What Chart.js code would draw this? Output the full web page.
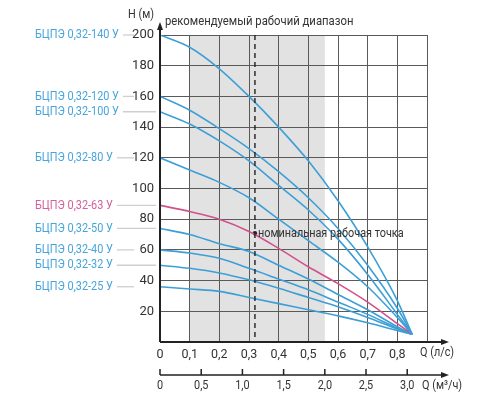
<!DOCTYPE html>
<html>
<head>
<meta charset="utf-8">
<script src="https://cdn.jsdelivr.net/npm/chart.js@4.4.1/dist/chart.umd.min.js"></script>
<style>
    html, body { margin: 0; background: #fff; }
    #wrap { width: 500px; height: 400px; }
</style>
</head>
<body>
<div id="wrap"><canvas id="chart" width="500" height="400"></canvas></div>
<script>
const FONT = 'Roboto, "Liberation Sans", sans-serif';
const SQUEEZE = 0.87; // the reference uses a condensed face

// flow, l/s
const flowValues = [0, 0.1, 0.2, 0.3, 0.4, 0.5, 0.6, 0.7, 0.8, 0.85];

// head, m
const head140 = [200, 192, 178, 160, 140, 118, 92, 62, 27, 5];
const head120 = [160, 151, 139, 126, 111, 94, 74, 50, 22, 5];
const head100 = [150, 142, 131, 118, 102, 86, 67, 44, 18, 5];
const head80 = [120, 112, 104, 94, 80, 66, 52, 36, 16, 5];
const head63 = [89, 85, 80, 72, 61, 49, 38, 26, 12, 5];
const head50 = [74, 70, 64, 59, 50, 41, 31, 21, 10, 5];
const head40 = [60, 58, 54.5, 48, 41, 34, 26, 18, 9, 5];
const head32 = [50, 48, 45, 40.5, 35, 29, 23, 16, 8.5, 5];
const head25 = [36, 34.5, 33, 29, 25, 21, 17, 12.5, 7.5, 5];

const pumpNames = [
    'БЦПЭ 0,32-140 У', 'БЦПЭ 0,32-120 У', 'БЦПЭ 0,32-100 У', 'БЦПЭ 0,32-80 У', 'БЦПЭ 0,32-63 У',
    'БЦПЭ 0,32-50 У', 'БЦПЭ 0,32-40 У', 'БЦПЭ 0,32-32 У', 'БЦПЭ 0,32-25 У',
];
const pumpHeads = [head140, head120, head100, head80, head63, head50, head40, head32, head25];
const highlighted = 'БЦПЭ 0,32-63 У';

const recommendedRange = [0.1, 0.5556];
const nominalFlow = 0.32;
const nominalHead = 70.8;
const flowTicksM3h = [0, 0.5, 1.0, 1.5, 2.0, 2.5, 3.0];

const BLUE = '#3c9fd6';
const PINK = '#d2508c';
const LABEL_BLUE = '#47a5dc';
const LABEL_PINK = '#d4609a';
const TEXT = '#333';

const comma = (v, digits) => v.toFixed(digits).replace('.', ',');

const datasets = pumpHeads.map((heads, i) => ({
    label: pumpNames[i],
    data: flowValues.map((q, k) => ({ x: q, y: heads[k] })),
    borderColor: pumpNames[i] === highlighted ? PINK : BLUE,
    borderWidth: 1.6,
    pointRadius: 0,
    cubicInterpolationMode: 'monotone',
    fill: false,
}));

datasets.push({
    label: 'nominal',
    data: [{ x: nominalFlow, y: nominalHead }],
    showLine: false,
    pointRadius: 2.2,
    pointBackgroundColor: '#222',
    pointBorderWidth: 0,
});

const narrowText = (ctx, text, x, y) => {
    ctx.save();
    ctx.translate(x, y);
    ctx.scale(SQUEEZE, 1);
    ctx.fillText(text, 0, 0);
    ctx.restore();
};

const arrow = (ctx, x, y, dir) => {
    ctx.beginPath();
    if (dir === 'up') {
        ctx.moveTo(x, y);
        ctx.lineTo(x - 3, y + 8);
        ctx.lineTo(x + 3, y + 8);
    } else {
        ctx.moveTo(x, y);
        ctx.lineTo(x - 8, y - 3);
        ctx.lineTo(x - 8, y + 3);
    }
    ctx.closePath();
    ctx.fill();
};

const decorations = {
    id: 'decorations',
    beforeDraw(chart) {
        const { ctx, chartArea, scales } = chart;
        ctx.save();
        ctx.fillStyle = '#fff';
        ctx.fillRect(0, 0, chart.width, chart.height);
        const x0 = scales.x.getPixelForValue(recommendedRange[0]);
        const x1 = scales.x.getPixelForValue(recommendedRange[1]);
        ctx.fillStyle = '#e2e2e2';
        ctx.fillRect(x0, chartArea.top, x1 - x0, chartArea.bottom - chartArea.top);

        // connectors from model names to the axis
        ctx.font = '12.5px ' + FONT;
        const yTicks = scales.y.ticks.map((t) => scales.y.getPixelForValue(t.value));
        pumpNames.forEach((name, i) => {
            const y = scales.y.getPixelForValue(pumpHeads[i][0]);
            const start = 35 + ctx.measureText(name).width * SQUEEZE + 4;
            const nearTick = yTicks.some((ty) => Math.abs(ty - y) < 9);
            ctx.strokeStyle = '#cfcfcf';
            ctx.lineWidth = 1.3;
            ctx.beginPath();
            ctx.moveTo(start, y);
            ctx.lineTo(nearTick ? 134 : 156, y);
            ctx.stroke();
        });
        ctx.restore();
    },
    afterDatasetsDraw(chart) {
        const { ctx, chartArea, scales } = chart;
        const { left, right, top, bottom } = chartArea;
        ctx.save();

        // nominal flow dashed line
        const xn = scales.x.getPixelForValue(nominalFlow);
        ctx.strokeStyle = '#222';
        ctx.lineWidth = 1.4;
        ctx.setLineDash([5, 4]);
        ctx.beginPath();
        ctx.moveTo(xn, top);
        ctx.lineTo(xn, bottom);
        ctx.stroke();
        ctx.setLineDash([]);

        // axes with arrows
        ctx.strokeStyle = '#222';
        ctx.fillStyle = '#222';
        ctx.lineWidth = 2;
        ctx.beginPath();
        ctx.moveTo(left, bottom);
        ctx.lineTo(left, 26);
        ctx.moveTo(left, bottom);
        ctx.lineTo(right + 18, bottom);
        ctx.stroke();
        arrow(ctx, left, 22, 'up');
        arrow(ctx, right + 22, bottom, 'right');

        // second flow axis, m3/h
        const y2 = 375;
        ctx.lineWidth = 1.5;
        ctx.beginPath();
        ctx.moveTo(left, y2);
        ctx.lineTo(right + 18, y2);
        flowTicksM3h.forEach((v) => {
            const x = scales.x.getPixelForValue(v / 3.6);
            ctx.moveTo(x, y2);
            ctx.lineTo(x, y2 - 6);
        });
        ctx.stroke();
        arrow(ctx, right + 22, y2, 'right');

        ctx.fillStyle = TEXT;
        ctx.font = '12.5px ' + FONT;
        ctx.textBaseline = 'middle';
        ctx.textAlign = 'center';
        flowTicksM3h.forEach((v) => {
            const x = scales.x.getPixelForValue(v / 3.6);
            narrowText(ctx, v === 0 ? '0' : comma(v, 1), x, y2 + 11);
        });

        ctx.textAlign = 'left';
        narrowText(ctx, 'Q (л/с)', right - 7, bottom + 11);
        narrowText(ctx, 'Q (м³/ч)', right - 5, y2 + 11);

        ctx.textAlign = 'right';
        narrowText(ctx, 'Н (м)', left - 6, 15);

        ctx.textAlign = 'left';
        ctx.font = '13px ' + FONT;
        narrowText(ctx, 'рекомендуемый рабочий диапазон', left + 5, 22);

        ctx.font = '12.5px ' + FONT;
        narrowText(ctx, 'номинальная рабочая точка', xn + 3, scales.y.getPixelForValue(nominalHead) + 1);

        // model names
        pumpNames.forEach((name, i) => {
            ctx.fillStyle = name === highlighted ? LABEL_PINK : LABEL_BLUE;
            narrowText(ctx, name, 35, scales.y.getPixelForValue(pumpHeads[i][0]));
        });

        ctx.restore();
    },
};

new Chart(document.getElementById('chart'), {
    type: 'line',
    data: { datasets },
    options: {
        responsive: false,
        animation: false,
        devicePixelRatio: 1,
        layout: { padding: { left: 120, right: 73, top: 35, bottom: 0 } },
        plugins: { legend: { display: false }, tooltip: { enabled: false } },
        scales: {
            x: {
                type: 'linear',
                min: 0,
                max: 0.9,
                afterFit: (s) => { s.height = 58; },
                ticks: {
                    stepSize: 0.1,
                    padding: 5,
                    color: TEXT,
                    font: { family: FONT, size: 12.5 },
                    maxRotation: 0,
                    callback: (v) => (v === 0 ? '0' : v > 0.85 ? '' : comma(v, 1)),
                },
                grid: { color: '#5a5a5a', lineWidth: 1, drawTicks: false },
                border: { display: false },
            },
            y: {
                min: 0,
                max: 200,
                afterFit: (s) => { s.width = 40; },
                ticks: {
                    stepSize: 20,
                    padding: 6,
                    color: TEXT,
                    font: { family: FONT, size: 13 },
                    callback: (v) => (v === 0 ? '' : v),
                },
                grid: { color: '#5a5a5a', lineWidth: 1, drawTicks: false },
                border: { display: false },
            },
        },
    },
    plugins: [decorations],
});
</script>
</body>
</html>
